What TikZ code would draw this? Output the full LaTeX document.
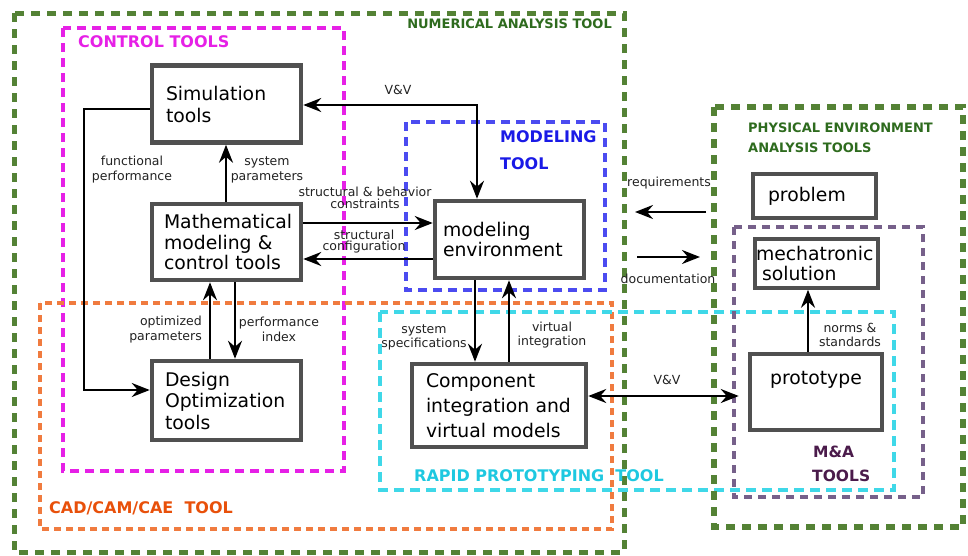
\documentclass[tikz,border=0pt]{standalone}
\usepackage{fontspec}
\setmainfont{DejaVu Sans}
\usetikzlibrary{arrows.meta}
\definecolor{gline}{HTML}{548235}
\definecolor{gtext}{HTML}{2E6B1E}
\definecolor{mline}{HTML}{E620E6}
\definecolor{oline}{HTML}{F07B3F}
\definecolor{otext}{HTML}{E8500A}
\definecolor{bline}{HTML}{4B4BF0}
\definecolor{btext}{HTML}{1A1AE6}
\definecolor{cline}{HTML}{3FD8E8}
\definecolor{ctext}{HTML}{1EC8E0}
\definecolor{pline}{HTML}{76608A}
\definecolor{ptext}{HTML}{4B1B4B}
\definecolor{boxgray}{HTML}{505050}
\definecolor{lblcol}{HTML}{222222}
\begin{document}
\begin{tikzpicture}[x=1pt,y=-1pt,
  box/.style={draw=boxgray, line width=4.5pt, fill=white, inner sep=0pt, align=left},
  sbox/.style={box, line width=3.5pt},
  lbl/.style={font=\fontsize{12.5}{14.5}\selectfont, text=lblcol, inner sep=0pt, align=center},
  arr/.style={line width=2.5pt, black, -{Stealth[length=18pt,width=14pt,inset=6pt]}},
  darr/.style={line width=2.5pt, black, {Stealth[length=18pt,width=14pt,inset=6pt]}-{Stealth[length=18pt,width=14pt,inset=6pt]}},
  region/.style={line width=4pt, dash pattern=on 9pt off 6pt},
  bigtitle/.style={font=\fontsize{16}{18}\selectfont\bfseries, inner sep=0pt, anchor=west},
  smalltitle/.style={font=\fontsize{13}{15}\selectfont\bfseries, inner sep=0pt, anchor=west}
]
\useasboundingbox (0,0) rectangle (968,555);
% regions
\draw[region, gline, line width=5pt, dash pattern=on 9pt off 7pt] (14,13) rectangle (624,552);
\draw[region, mline, line width=3.5pt] (63,28) rectangle (344,471);
\draw[region, oline, line width=3.5pt, dash pattern=on 7pt off 5pt] (40,303) rectangle (612,529);
\draw[region, bline] (406,122) rectangle (605,290);
\draw[region, cline, dash pattern=on 10pt off 6pt] (380,312) rectangle (894,490);
\draw[region, gline, line width=5.5pt, dash pattern=on 9pt off 7pt] (714,107) rectangle (963,527);
\draw[region, pline, dash pattern=on 8pt off 6pt] (734,227) rectangle (923,497);
% region titles
\node[smalltitle, text=gtext, anchor=east] (tnum) at (612,24) {NUMERICAL ANALYSIS TOOL};
\node[bigtitle, text=mline] (tctl) at (78,42) {CONTROL TOOLS};
\node[bigtitle, text=btext] (tmod1) at (500,137) {MODELING};
\node[bigtitle, text=btext] (tmod2) at (500,164) {TOOL};
\node[bigtitle, text=otext] (tcad) at (49,508) {CAD/CAM/CAE\ \ TOOL};
\node[bigtitle, text=ctext] (trp) at (414,476) {RAPID PROTOTYPING\ \ TOOL};
\node[smalltitle, text=gtext] (tphy1) at (748,128) {PHYSICAL ENVIRONMENT};
\node[smalltitle, text=gtext] (tphy2) at (748,148) {ANALYSIS TOOLS};
\node[bigtitle, text=ptext, font=\fontsize{15.5}{18}\selectfont\bfseries] (tma1) at (813,452) {M\&A};
\node[bigtitle, text=ptext, font=\fontsize{15.5}{18}\selectfont\bfseries] (tma2) at (812,476) {TOOLS};
% boxes
\node[box, minimum width=149pt, minimum height=77pt, text width=121pt, font=\fontsize{18.8}{22}\selectfont] (sim) at (226.5,104) {Simulation\\tools};
\node[box, minimum width=149pt, minimum height=76pt, text width=125pt, font=\fontsize{18.8}{20.5}\selectfont] (math) at (226.5,242) {Mathematical\\modeling \&\\control tools};
\node[box, minimum width=149pt, minimum height=79pt, text width=123pt, font=\fontsize{18.8}{21.5}\selectfont] (dopt) at (226.5,400.5) {Design\\Optimization\\tools};
\node[box, minimum width=149pt, minimum height=77pt, text width=133pt, font=\fontsize{18.8}{19.5}\selectfont] (menv) at (509.5,239.5) {modeling\\environment};
\node[box, minimum width=174pt, minimum height=83pt, text width=146pt, font=\fontsize{18.8}{25}\selectfont] (comp) at (499,405.5) {Component\\integration and\\virtual models};
\node[sbox, minimum width=123pt, minimum height=44pt, text width=93pt, font=\fontsize{18.8}{21}\selectfont] (prob) at (814.5,196) {problem};
\node[sbox, minimum width=123pt, minimum height=49pt, text width=121pt, font=\fontsize{18.8}{20}\selectfont] (mech) at (816.5,263.5) {mechatronic\\\hspace*{6pt}solution};
\node[box, minimum width=132pt, minimum height=76pt, align=center, font=\fontsize{18.8}{21}\selectfont] (proto) at (816,392) {prototype\\[8pt]};
% free arrow ends
\coordinate (reqA) at (706,212);
\coordinate (reqB) at (635,212);
\coordinate (docA) at (637,257);
\coordinate (docB) at (700,257);
% connectors
\draw[darr] (sim.east |- 0,105) -| (menv.north -| 477,0);
\draw[arr] (sim.west |- 0,109) -- ++(-66,0) |- (dopt.west |- 0,390);
\draw[arr] (math.north -| 226,0) -- (sim.south -| 226,0);
\draw[arr] (math.east |- 0,223) -- (menv.west |- 0,223);
\draw[arr] (menv.west |- 0,259) -- (math.east |- 0,259);
\draw[arr] (dopt.north -| 210,0) -- (math.south -| 210,0);
\draw[arr] (math.south -| 235,0) -- (dopt.north -| 235,0);
\draw[arr] (menv.south -| 475,0) -- (comp.north -| 475,0);
\draw[arr] (comp.north -| 509,0) -- (menv.south -| 509,0);
\draw[darr, shorten >=9pt] (comp.east |- 0,396) -- (proto.west |- 0,396);
\draw[arr] (proto.north -| 808,0) -- (mech.south -| 808,0);
\draw[arr] (reqA) -- (reqB);
\draw[arr] (docA) -- (docB);
% labels
\node[lbl] (lvv1) at (398,90) {V\&V};
\node[lbl] (lfun) at (132,169.5) {functional\\performance};
\node[lbl] (lsys) at (267,170) {system\\parameters};
\node[lbl, font=\fontsize{12.5}{11.5}\selectfont] (lsb) at (365,198) {structural \& behavior\\constraints};
\node[lbl, font=\fontsize{12.5}{11}\selectfont] (lsc) at (364,241.5) {structural\\configuration};
\node[lbl, align=right, anchor=east] (lopt) at (202,329.5) {optimized\\parameters};
\node[lbl] (lperf) at (279,329.5) {performance\\index};
\node[lbl] (lss) at (424,337.5) {system\\specifications};
\node[lbl] (lvi) at (552,335) {virtual\\integration};
\node[lbl] (lvv2) at (667,380) {V\&V};
\node[lbl] (lnorm) at (850,335) {norms \&\\standards};
\node[lbl] (lreq) at (669,183) {requirements};
\node[lbl] (ldoc) at (668,279) {documentation};
\end{tikzpicture}
\end{document}
